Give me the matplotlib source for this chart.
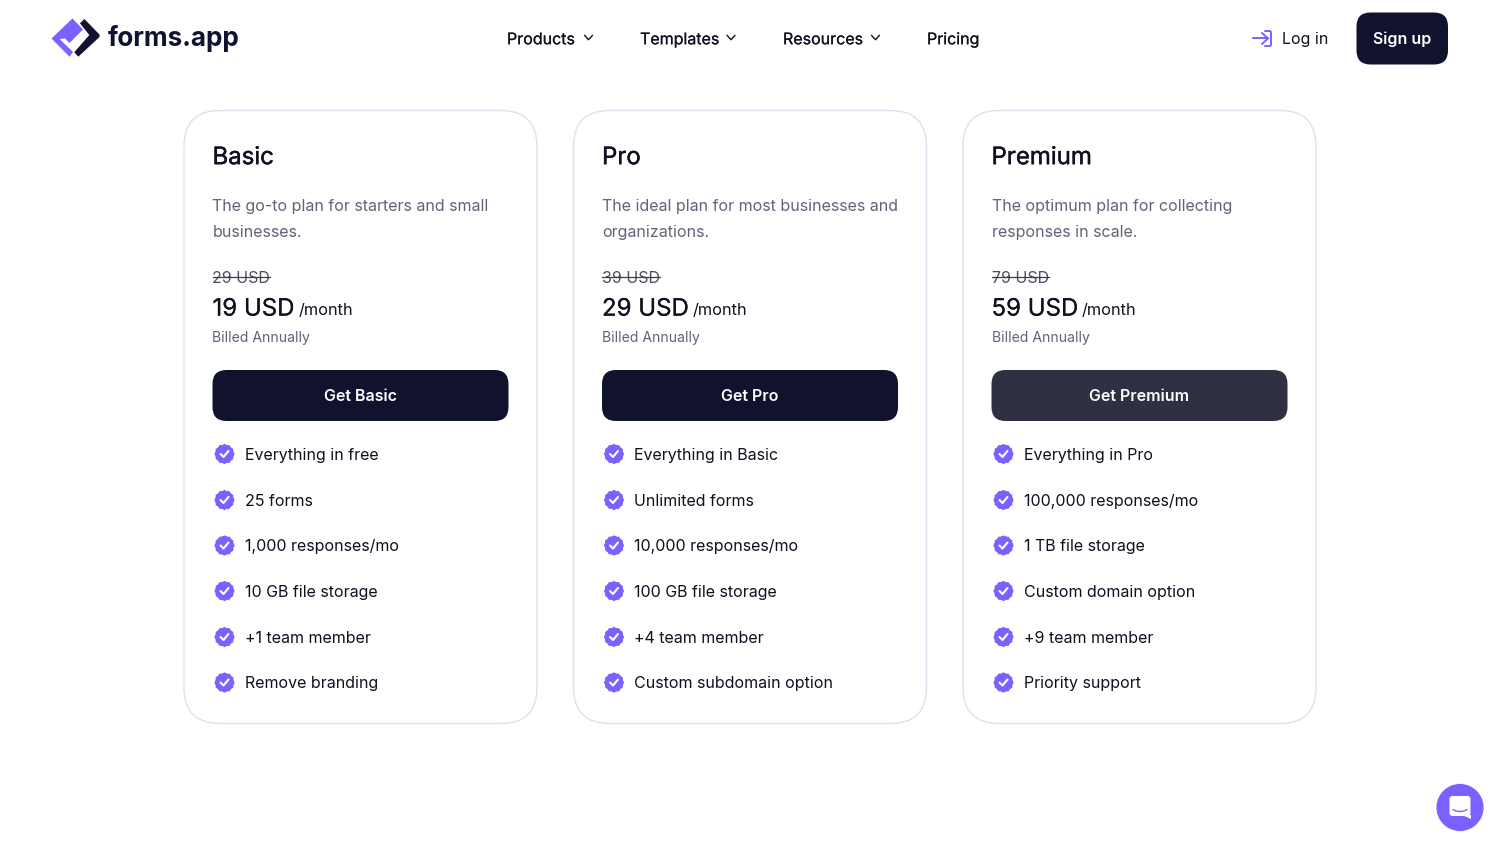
import matplotlib
matplotlib.use("Agg")
import matplotlib.pyplot as plt
import matplotlib.patheffects as pe
from matplotlib.patches import FancyBboxPatch, Circle, Polygon, RegularPolygon

plt.rcParams['font.family'] = ['Inter', 'DejaVu Sans']

DARK = '#10122e'
INK = '#0f1020'
GREY = '#62637a'
PURPLE = '#7b61ff'
BORDER = '#e0e0ee'

# contents of the page
nav_items = ['Products', 'Templates', 'Resources', 'Pricing']
nav_x = [507, 640, 783, 927]
nav_caret_x = [588.5, 731, 875.5]

plans = ['Basic', 'Pro', 'Premium']
descriptions = [
    ['The go-to plan for starters and small', 'businesses.'],
    ['The ideal plan for most businesses and', 'organizations.'],
    ['The optimum plan for collecting', 'responses in scale.'],
]
old_prices = ['29 USD', '39 USD', '79 USD']
prices = ['19 USD', '29 USD', '59 USD']
buttons = ['Get Basic', 'Get Pro', 'Get Premium']
button_colors = [DARK, DARK, '#2f3042']
features = [
    ['Everything in free', '25 forms', '1,000 responses/mo', '10 GB file storage',
     '+1 team member', 'Remove branding'],
    ['Everything in Basic', 'Unlimited forms', '10,000 responses/mo', '100 GB file storage',
     '+4 team member', 'Custom subdomain option'],
    ['Everything in Pro', '100,000 responses/mo', '1 TB file storage', 'Custom domain option',
     '+9 team member', 'Priority support'],
]
card_x = [184, 573.5, 963]
feature_y = [454, 500, 545.5, 591, 637, 682.5]

fig = plt.figure(figsize=(15, 8.46), dpi=100)
ax = fig.add_axes([0, 0, 1, 1])
ax.set_xlim(0, 1500)
ax.set_ylim(846, 0)
ax.axis('off')


def px(s):
    return s * 0.72


def rbox(x, y, w, h, r, fc, ec='none', lw=0, z=1):
    p = FancyBboxPatch((x + r, y + r), w - 2 * r, h - 2 * r,
                       boxstyle='round,pad=%f,rounding_size=%f' % (r, r),
                       fc=fc, ec=ec, lw=lw, zorder=z)
    ax.add_patch(p)


def label(x, y, s, size, color=INK, weight='normal', ha='left', stroke=0):
    # y is the middle of the capitals, the baseline sits 0.36 em under it
    t = ax.text(x, y + 0.36 * size, s, fontsize=px(size), color=color, fontweight=weight,
                ha=ha, va='baseline', zorder=5)
    if stroke:
        t.set_path_effects([pe.withStroke(linewidth=stroke, foreground=color)])
    return t


def caret(x, y):
    ax.plot([x - 4, x, x + 4], [y - 2.2, y + 2.2, y - 2.2], color=INK, lw=1.0,
            solid_capstyle='round', solid_joinstyle='round', zorder=5)


def badge(x, y):
    ax.add_patch(RegularPolygon((x, y), 6, radius=10.2, orientation=0, fc=PURPLE, ec='none', zorder=4))
    ax.add_patch(RegularPolygon((x, y), 6, radius=10.2, orientation=0.5236, fc=PURPLE, ec='none', zorder=4))
    ax.add_patch(Circle((x, y), 9, fc=PURPLE, ec='none', zorder=4))
    ax.plot([x - 4, x - 1, x + 4], [y, y + 3, y - 3], color='white', lw=1.5,
            solid_capstyle='round', solid_joinstyle='round', zorder=5)


# logo
ax.add_patch(Polygon([(51.5, 38.5), (72.5, 18.5), (83, 29.5), (69.5, 43), (65, 38.5),
                      (59.5, 39), (73, 52), (69.5, 56.7)], fc=PURPLE, ec='none', zorder=3))
ax.add_patch(Polygon([(80, 23.3), (84.3, 19), (99.5, 34.5), (99.5, 37), (78.3, 56.7), (74.3, 52.3),
                      (89.3, 35)], fc=DARK, ec='none', zorder=3))
label(108, 37, 'forms.app', 26, color=DARK, weight='bold')

# navigation
for i, item in enumerate(nav_items):
    label(nav_x[i], 38.5, item, 16, stroke=0.12)
for x in nav_caret_x:
    caret(x, 37.5)

# log in arrow
ax.plot([1253, 1268], [38.5, 38.5], color=PURPLE, lw=1.4, solid_capstyle='round', zorder=5)
ax.plot([1262, 1268, 1262], [33, 38.5, 44], color=PURPLE, lw=1.4,
        solid_capstyle='round', solid_joinstyle='round', zorder=5)
ax.plot([1265, 1270, 1271, 1271, 1270, 1265], [31, 31, 32, 45, 46, 46], color=PURPLE, lw=1.4,
        solid_capstyle='round', solid_joinstyle='round', zorder=5)
label(1282, 38.5, 'Log in', 16)
rbox(1356.5, 12.5, 91.5, 52, 14, DARK)
label(1402, 38.5, 'Sign up', 16, color='white', weight='semibold', ha='center')

# plan cards
for i, plan in enumerate(plans):
    x = card_x[i]
    tx = x + 28.5
    rbox(x, 110.5, 353, 613, 36, 'white', ec=BORDER, lw=1.0)
    label(tx, 155.5, plan, 24, stroke=0.3)
    label(tx, 205.5, descriptions[i][0], 16, color=GREY)
    label(tx, 231.5, descriptions[i][1], 16, color=GREY)

    old = label(tx, 277, old_prices[i], 16, color='#4c4d60')
    fig.canvas.draw()
    bb = old.get_window_extent()
    ax.plot([tx, tx + bb.width], [277, 277], color='#3c3d50', lw=0.9, zorder=6)

    p = label(tx, 307, prices[i], 24, stroke=0.1)
    fig.canvas.draw()
    label(tx + p.get_window_extent().width + 4, 309.5, '/month', 16.3)
    label(tx, 337.2, 'Billed Annually', 14, color=GREY)

    rbox(tx, 370, 296, 51, 14, button_colors[i])
    label(tx + 148, 395.5, buttons[i], 16, color='white', weight='semibold', ha='center')

    for j, feat in enumerate(features[i]):
        badge(x + 40.5, feature_y[j])
        label(x + 60.7, feature_y[j], feat, 16)

# chat bubble
ax.add_patch(Circle((1460, 807.5), 24, fc=PURPLE, ec='white', lw=0.6, zorder=3))
rbox(1449.5, 796, 21, 20, 3, 'white', z=4)
ax.add_patch(Polygon([(1462, 815), (1470.5, 815), (1470.5, 819.5)], fc='white', ec='none', zorder=4))
ax.plot([1453, 1456, 1460, 1464, 1467], [809.5, 811, 811.6, 811, 809.5], color=PURPLE, lw=1.0,
        solid_capstyle='round', zorder=5)

fig.savefig('out.png', dpi=100, facecolor='white')
